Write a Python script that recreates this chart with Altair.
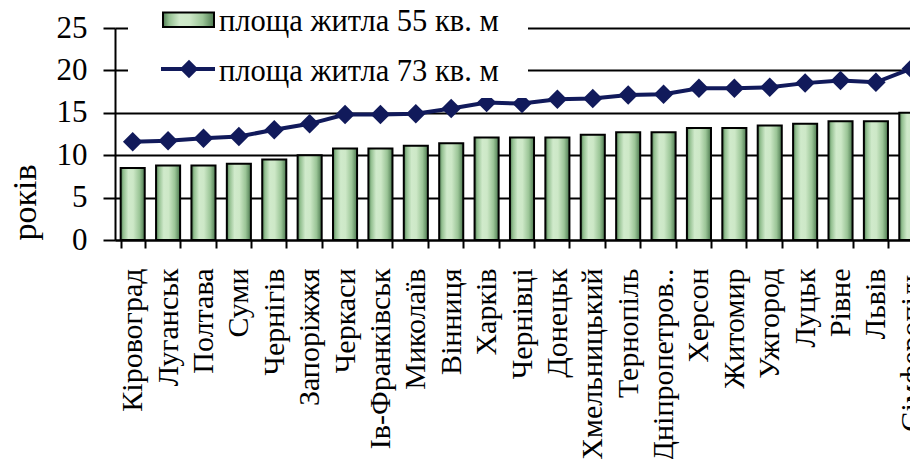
import altair as alt
import pandas as pd

cities = ["Кіровоград", "Луганськ", "Полтава", "Суми", "Чернігів", "Запоріжжя",
          "Черкаси", "Ів-Франківськ", "Миколаїв", "Вінниця", "Харків", "Чернівці",
          "Донецьк", "Хмельницький", "Тернопіль", "Дніпропетров..", "Херсон",
          "Житомир", "Ужгород", "Луцьк", "Рівне", "Львів", "Сімферопіль"]
area55 = [8.5, 8.8, 8.8, 9.0, 9.5, 10.0, 10.8, 10.8, 11.1, 11.4, 12.1, 12.1,
          12.1, 12.4, 12.7, 12.7, 13.2, 13.2, 13.5, 13.7, 14.0, 14.0, 15.0]
area73 = [11.6, 11.7, 12.0, 12.2, 13.0, 13.7, 14.8, 14.8, 14.9, 15.5, 16.2, 16.1,
          16.6, 16.7, 17.1, 17.2, 17.9, 17.9, 18.0, 18.5, 18.8, 18.6, 20.2]
series_names = ["площа житла 55 кв. м", "площа житла 73 кв. м"]
y_ticks = [0, 5, 10, 15, 20, 25]
y_title = "років"

FONT = "Liberation Serif"
NAVY = "#111a5b"

df = pd.DataFrame({"city": cities, "v55": area55, "v73": area73})
leg = pd.DataFrame({"label": series_names})

bar_grad = alt.Gradient(
    gradient="linear", x1=0, x2=1, y1=0, y2=0,
    stops=[alt.GradientStop(offset=0, color="#4f7c53"),
           alt.GradientStop(offset=0.12, color="#94c091"),
           alt.GradientStop(offset=0.32, color="#d0eacb"),
           alt.GradientStop(offset=0.52, color="#cde8c7"),
           alt.GradientStop(offset=0.78, color="#9bc597"),
           alt.GradientStop(offset=1, color="#4b784e")])

x_enc = alt.X("city:N", sort=cities, title=None,
              scale=alt.Scale(range=[0, 814], paddingInner=0.32, paddingOuter=0.16),
              axis=alt.Axis(labelAngle=-90, labelFont=FONT, labelFontSize=30,
                            labelColor="black", labelPadding=20, tickBand="extent",
                            tickSize=8, tickColor="black", tickWidth=2,
                            domainColor="black", domainWidth=2, labelLimit=400))
y_scale = alt.Scale(domain=[0, 25], nice=False)
y_axis = alt.Axis(values=y_ticks, labelFont=FONT, labelFontSize=31, labelColor="black",
                  labelPadding=16, tickSize=12, tickColor="black", tickWidth=2,
                  domainColor="black", domainWidth=2, grid=True, gridColor="black",
                  gridWidth=2, title=y_title, titleFont=FONT, titleFontSize=34,
                  titleFontWeight="normal", titleColor="black", titleAngle=-90,
                  titleAlign="left", titleBaseline="alphabetic", titleX=-80, titleY=212)

base = alt.Chart(df)
bars = base.mark_bar(fill=bar_grad, stroke="black", strokeWidth=2).encode(
    x=x_enc, y=alt.Y("v55:Q", scale=y_scale, axis=y_axis))
line = base.mark_line(color=NAVY, strokeWidth=4).encode(
    x=alt.X("city:N", sort=cities), y=alt.Y("v73:Q"))
pts = base.mark_point(shape="diamond", filled=True, color=NAVY, size=380, opacity=1).encode(
    x=alt.X("city:N", sort=cities), y=alt.Y("v73:Q"))

legbase = alt.Chart(leg)
leg_bg = legbase.mark_rect(fill="white").encode(
    x=alt.value(13), x2=alt.value(413), y=alt.value(-30), y2=alt.value(70))
leg_bar = legbase.transform_filter(alt.datum.label == series_names[0]).mark_rect(
    fill=bar_grad, stroke="black", strokeWidth=2).encode(
    x=alt.value(48), x2=alt.value(99), y=alt.value(-15.5), y2=alt.value(-1))
leg_line = legbase.transform_filter(alt.datum.label == series_names[1]).mark_rule(
    color=NAVY, strokeWidth=4).encode(
    x=alt.value(46), x2=alt.value(100), y=alt.value(41))
leg_pt = legbase.transform_filter(alt.datum.label == series_names[1]).mark_point(
    shape="diamond", filled=True, color=NAVY, size=340, opacity=1).encode(
    x=alt.value(74), y=alt.value(41))
leg_t1 = legbase.transform_filter(alt.datum.label == series_names[0]).mark_text(
    align="left", baseline="alphabetic", font=FONT, fontSize=30.5, color="black").encode(
    x=alt.value(104), y=alt.value(3.4), text="label:N")
leg_t2 = legbase.transform_filter(alt.datum.label == series_names[1]).mark_text(
    align="left", baseline="alphabetic", font=FONT, fontSize=30.5, color="black").encode(
    x=alt.value(104), y=alt.value(53.4), text="label:N")

chart = alt.layer(bars, line, pts, leg_bg, leg_bar, leg_line, leg_pt, leg_t1, leg_t2).properties(
    width=795, height=212,
    autosize=alt.AutoSizeParams(type="none"),
    padding={"left": 107, "top": 20, "right": 0, "bottom": 219},
).configure(background="white").configure_view(stroke=None)

chart.save("out.html", embed_options={"renderer": "svg", "actions": False})
